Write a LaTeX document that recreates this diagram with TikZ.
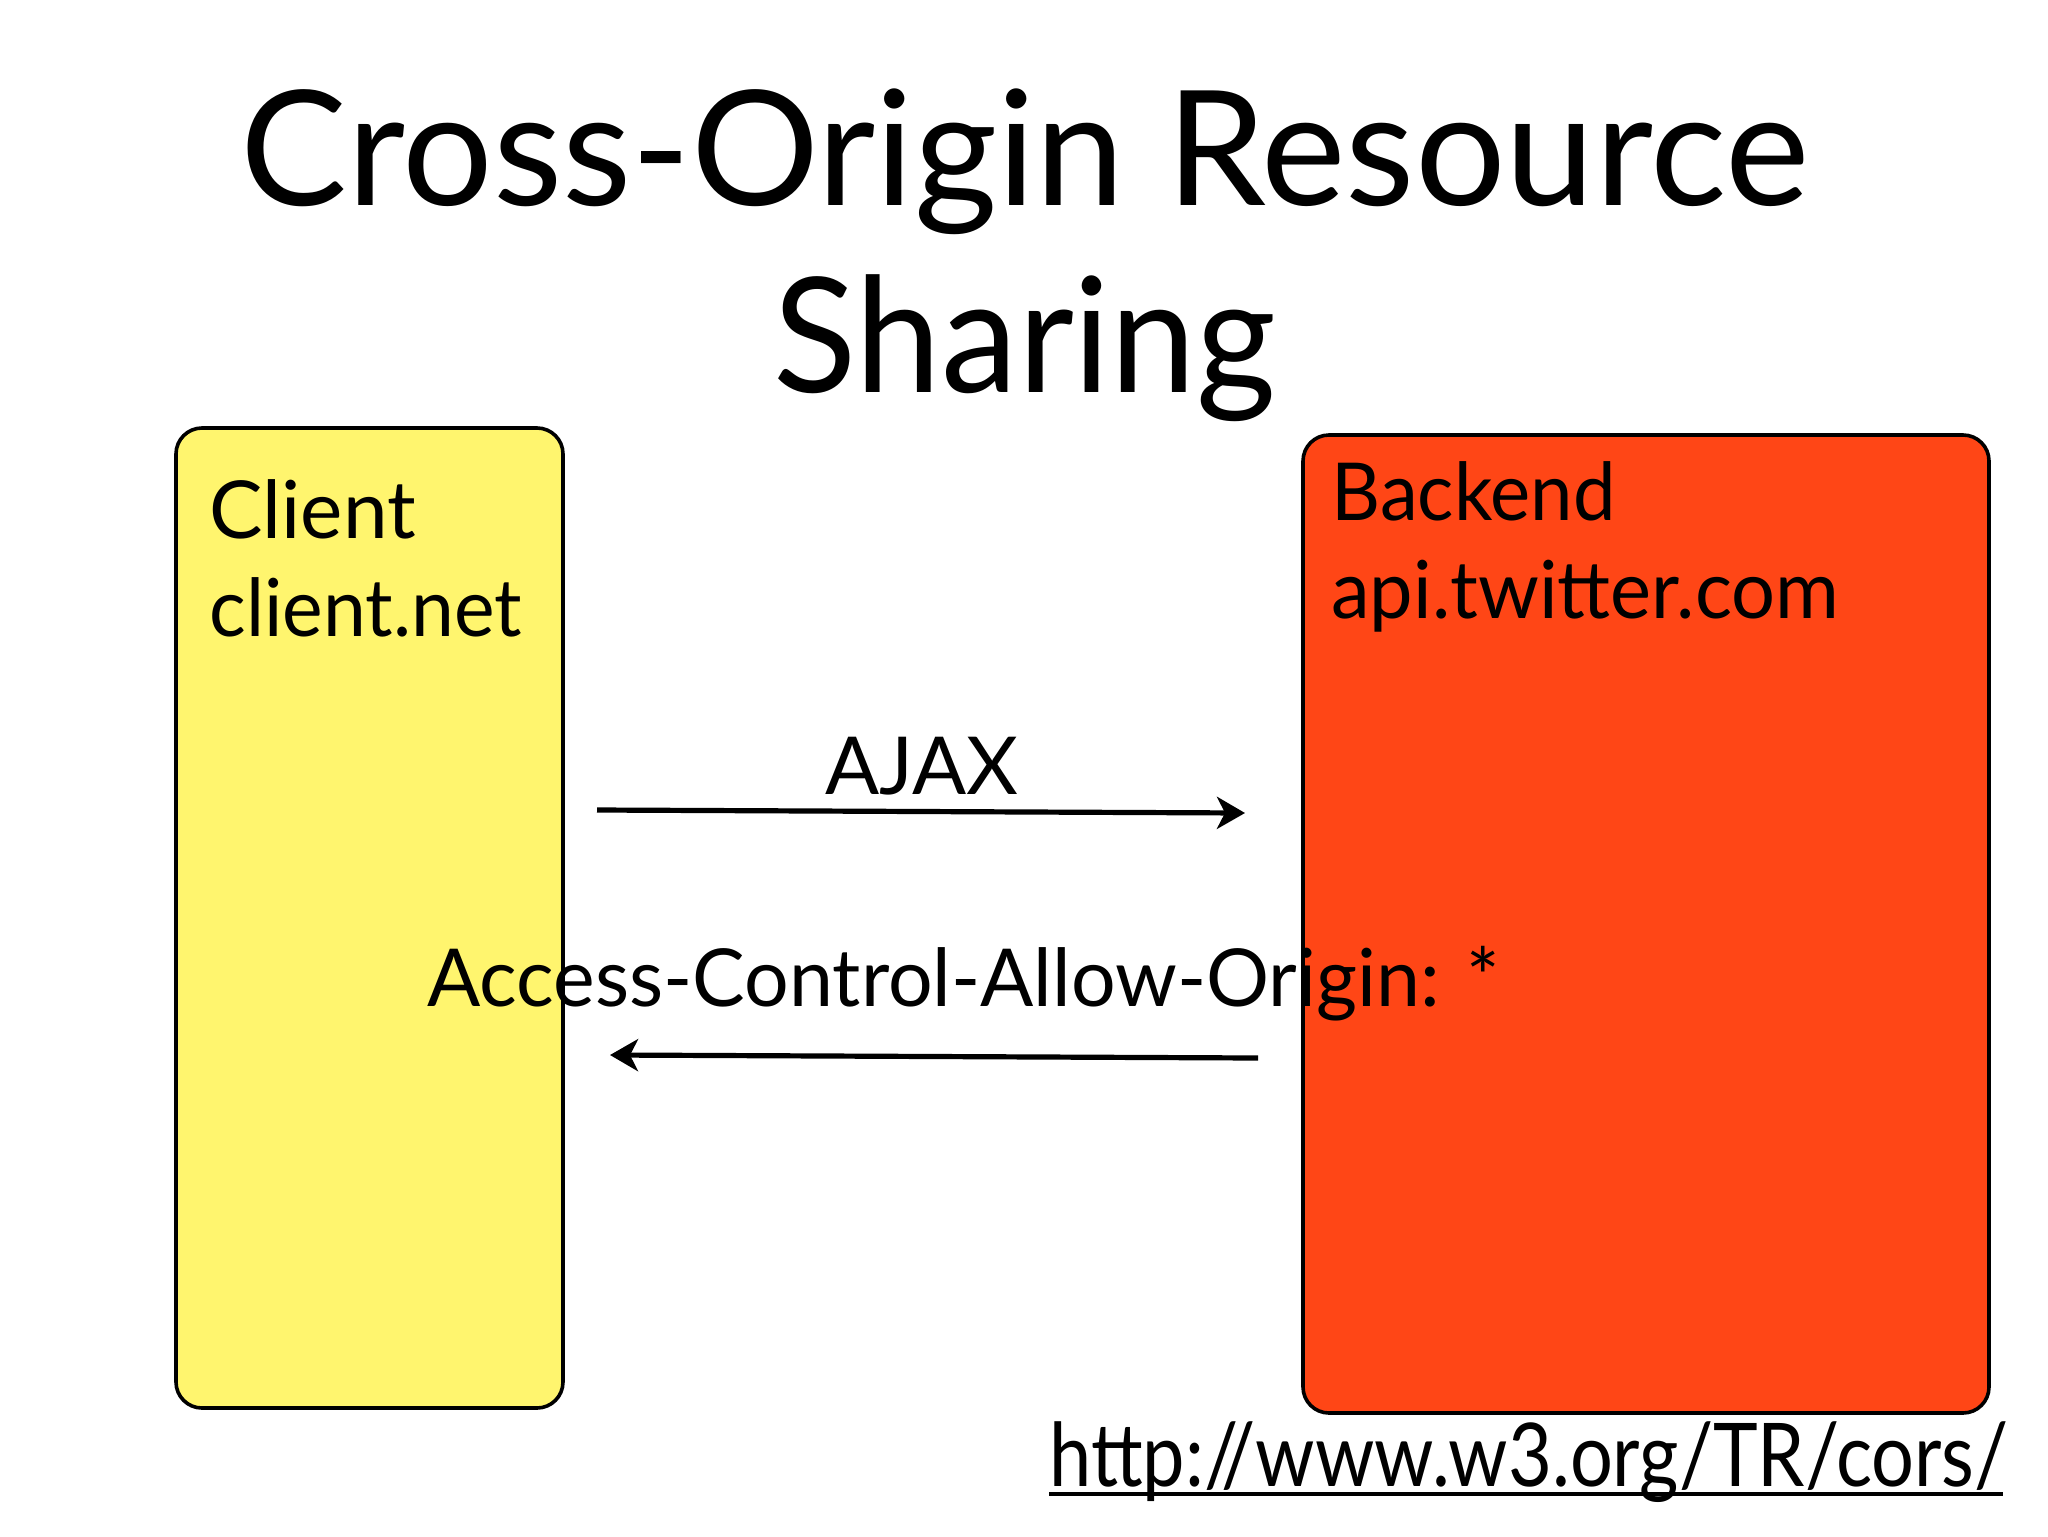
\documentclass[tikz,border=0pt]{standalone}
\usepackage{fontspec}
\setmainfont{Lato}
\usetikzlibrary{arrows.meta}
\definecolor{cyellow}{RGB}{255,245,110}
\definecolor{cred}{RGB}{255,70,22}
\newcommand{\narrowtext}[2]{\scalebox{#1}[1]{#2}}
\tikzset{
  panel/.style={draw=black, line width=1.8pt, rounded corners=13pt, inner sep=0pt},
  bodytext/.style={anchor=base west, inner sep=0pt, font=\fontsize{40}{48}\selectfont},
  titletext/.style={anchor=base, inner sep=0pt, font=\fontsize{80}{96}\selectfont},
  msg/.style={line width=2.6pt, -{Stealth[length=14pt, width=16pt, inset=4pt]}}
}
\begin{document}
\begin{tikzpicture}[x=0.5pt,y=-0.5pt]
\useasboundingbox[fill=white] (0,0) rectangle (2048,1536);
% title
\node[titletext] (t1) at (1025,205) {Cross-Origin Resource};
\node[titletext] (t2) at (1025,392) {\narrowtext{0.96}{Sharing}};
% panels
\node[panel, fill=cyellow, minimum width=193.5pt, minimum height=490pt] (client) at (369.5,918) {};
\node[panel, fill=cred, minimum width=343pt, minimum height=489pt] (backend) at (1646,924) {};
\node[bodytext] (cl1) at (209,538) {Client};
\node[bodytext] (cl2) at (209,636) {\narrowtext{0.96}{client.net}};
\node[bodytext] (be1) at (1331,520) {\narrowtext{0.95}{Backend}};
\node[bodytext] (be2) at (1331,618) {\narrowtext{0.97}{api.twitter.com}};
% messages
\node[bodytext] (ajax) at (825,794) {AJAX};
\node[bodytext] (acao) at (427,1006) {\narrowtext{0.985}{Access-Control-Allow-Origin: *}};
\coordinate (a1s) at (597,810);
\coordinate (a1e) at (1245,813);
\coordinate (a2s) at (1258,1058);
\coordinate (a2e) at (610,1055);
\draw[msg] (a1s) -- (a1e);
\draw[msg] (a2s) -- (a2e);
% url
\node[bodytext, font=\fontsize{44}{52}\selectfont] (url) at (1049,1486) {\narrowtext{0.86}{http://www.w3.org/TR/cors/}};
\coordinate (ul1) at (1049,1494);
\coordinate (ul2) at (2003,1494);
\draw[line width=2.2pt] (ul1) -- (ul2);
\end{tikzpicture}
\end{document}
